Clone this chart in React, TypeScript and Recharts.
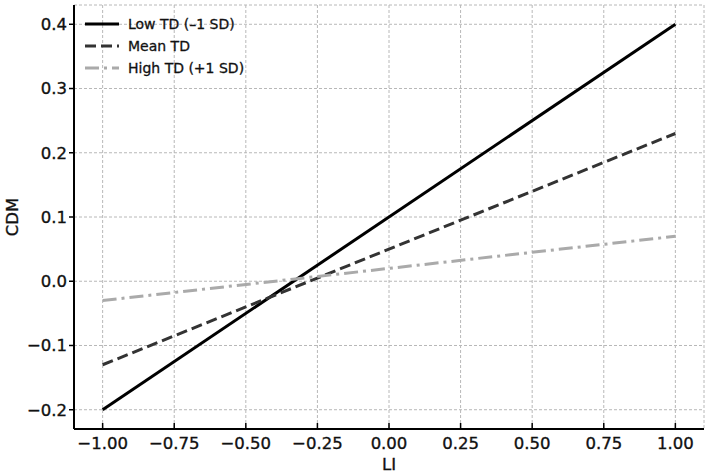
import React from "react";
import { LineChart, Line, XAxis, YAxis, CartesianGrid } from "recharts";

// LI values and the predicted CDM for each moderator level
const LI = [-1, 1];
const LOW_TD = [-0.2, 0.4];
const MEAN_TD = [-0.13, 0.23];
const HIGH_TD = [-0.03, 0.07];

const X_TICKS = [-1, -0.75, -0.5, -0.25, 0, 0.25, 0.5, 0.75, 1];
const Y_TICKS = [-0.2, -0.1, 0, 0.1, 0.2, 0.3, 0.4];

const data = LI.map((li, i) => ({
  li,
  low: LOW_TD[i],
  mean: MEAN_TD[i],
  high: HIGH_TD[i],
}));

const SERIES = [
  { key: "low", name: "Low TD (\u20131 SD)", color: "#000000", dash: undefined },
  { key: "mean", name: "Mean TD", color: "#333333", dash: "11 5" },
  { key: "high", name: "High TD (+1 SD)", color: "#aaaaaa", dash: "14 5 3 5" },
];

const FONT = "'DejaVu Sans', sans-serif";
const TEXT_STYLE = {
  fill: "#111",
  fontSize: 16.5,
  fontFamily: FONT,
  stroke: "#111",
  strokeWidth: 0.35,
};
const minus = (s: string) => s.replace("-", "\u2212");

// legend drawn as an overlay in the upper-left corner of the plot
function LegendBox() {
  return (
    <div
      style={{
        position: "absolute",
        left: 85,
        top: 13,
        fontFamily: FONT,
        fontSize: 14,
        color: "#111",
        WebkitTextStroke: "0.3px #111",
      }}
    >
      {SERIES.map((s) => (
        <div key={s.key} style={{ display: "flex", alignItems: "center", height: 22 }}>
          <svg width={34} height={8} style={{ marginRight: 9 }}>
            <line
              x1={0}
              y1={4}
              x2={34}
              y2={4}
              stroke={s.color}
              strokeWidth={3}
              strokeDasharray={s.dash}
            />
          </svg>
          <span>{s.name}</span>
        </div>
      ))}
    </div>
  );
}

export default function App() {
  return (
    <div style={{ position: "absolute", left: 0, top: 0, width: 709, height: 475, background: "#fff" }}>
      <LineChart width={709} height={475} data={data} margin={{ top: 5, right: 5, left: 0, bottom: 0 }}>
        <CartesianGrid stroke="#b8b8b8" strokeDasharray="3 2" />
        <XAxis
          dataKey="li"
          type="number"
          domain={[-1.1, 1.1]}
          ticks={X_TICKS}
          tickFormatter={(v: number) => minus(v.toFixed(2))}
          height={46}
          axisLine={{ stroke: "#000", strokeWidth: 2 }}
          tickLine={{ stroke: "#000", strokeWidth: 1.5 }}
          tickSize={-6}
          tickMargin={14}
          tick={TEXT_STYLE}
          label={{
            value: "LI",
            position: "insideBottom",
            offset: 5,
            style: TEXT_STYLE,
          }}
        />
        <YAxis
          type="number"
          domain={[-0.23, 0.43]}
          ticks={Y_TICKS}
          tickFormatter={(v: number) => minus(v.toFixed(1))}
          width={74}
          axisLine={{ stroke: "#000", strokeWidth: 2 }}
          tickLine={{ stroke: "#000", strokeWidth: 1.5 }}
          tickSize={5}
          tickMargin={2}
          tick={TEXT_STYLE}
          label={{
            value: "CDM",
            angle: -90,
            position: "insideLeft",
            offset: 12,
            style: { ...TEXT_STYLE, textAnchor: "middle" },
          }}
        />
        {SERIES.map((s) => (
          <Line
            key={s.key}
            type="linear"
            dataKey={s.key}
            name={s.name}
            stroke={s.color}
            strokeWidth={3}
            strokeDasharray={s.dash}
            dot={false}
            activeDot={false}
            isAnimationActive={false}
          />
        ))}
      </LineChart>
      <LegendBox />
    </div>
  );
}
